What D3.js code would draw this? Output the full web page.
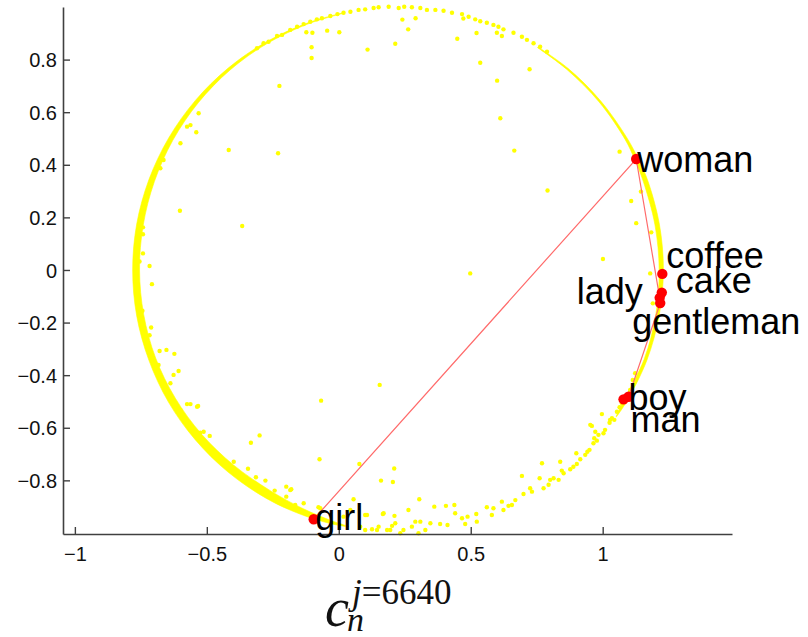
<!DOCTYPE html>
<html>
<head>
<meta charset="utf-8">
<script src="https://cdn.jsdelivr.net/npm/d3@7"></script>
<style>
  body { margin: 0; background: #fff; }
  svg { display: block; }
</style>
</head>
<body>
<svg id="chart" width="808" height="637"></svg>
<script>
// ---- data -------------------------------------------------------------
const words = ["girl", "woman", "lady", "gentleman", "man", "boy", "coffee", "cake"];
const wordX = [-0.095, 1.127, 1.216, 1.218, 1.098, 1.079, 1.226, 1.224];
const wordY = [-0.948, 0.422, -0.106, -0.126, -0.482, -0.492, -0.015, -0.086];

// words joined by the red polyline, in order
const chain = ["girl", "woman", "lady", "gentleman", "man", "boy"];

const xTicks = [-1, -0.5, 0, 0.5, 1];
const xTickLabels = ["\u22121", "\u22120.5", "0", "0.5", "1"];
const yTicks = [-0.8, -0.6, -0.4, -0.2, 0, 0.2, 0.4, 0.6, 0.8];
const yTickLabels = ["\u22120.8", "\u22120.6", "\u22120.4", "\u22120.2", "0", "0.2", "0.4", "0.6", "0.8"];

// dense band of projected vectors along the unit circle (centre, angle in degrees, radii)
const ringCx = 0.225, ringCy = 0.0;
const bandAngle = [-34, -30, -20, -10, 0, 10, 20, 25, 30, 40, 50, 58, 80, 102, 110, 120, 130, 140, 150, 160, 170, 180, 190, 200, 210, 220, 230, 240, 248, 255, 259];
const bandOuter = [0.998, 1.0, 1.003, 1.004, 1.005, 1.005, 1.005, 1.003, 1.002, 1.001, 1.001, 1.0, 1.0, 1.0, 1.0, 1.001, 1.002, 1.003, 1.004, 1.005, 1.006, 1.006, 1.006, 1.005, 1.005, 1.004, 1.003, 1.002, 1.0, 0.998, 0.995];
const bandInner = [0.996, 0.988, 0.992, 0.991, 0.989, 0.988, 0.988, 0.99, 0.993, 0.994, 0.995, 0.997, 1.0, 0.998, 0.996, 0.994, 0.992, 0.989, 0.986, 0.983, 0.981, 0.98, 0.979, 0.978, 0.975, 0.972, 0.969, 0.969, 0.976, 0.986, 0.993];

// individual projected vectors
const dotX = [
  -0.310, -0.285, -0.266, -0.234, -0.215, -0.184, -0.158, -0.133, -0.108, -0.083, -0.064, -0.032, -0.005, 0.018, 0.044, 0.075, 0.100, 0.132, 0.151, 0.189, 0.227, 0.248, 0.277, 0.309, 0.334, 0.366, 0.397, 0.429, 0.467, 0.492, 0.517, 0.536, 0.561, 0.586, 0.605, 0.624, 0.662, 0.694, 0.713, 0.738, 0.763, 0.789,
  -0.225, -0.103, -0.103, -0.123, -0.100, -0.044, 0.002, 0.109, 0.214, 0.241, 0.263, 0.291, 0.449, 0.522, 0.536, 0.599, 0.618, 0.600, 0.723, 0.612, 0.472,
  0.665, 0.791, 0.498, 1.001, 1.064, 1.108, 1.127, 1.145, 1.184, 1.180, 1.190,
  -0.602, -0.366, -0.230, -0.417, -0.742, -0.742, -0.742, -0.755, -0.717, -0.708, -0.744, -0.711, -0.717, -0.679, -0.653, -0.623, -0.683, -0.607, -0.626, -0.638, -0.676, -0.664, -0.600, -0.540, -0.575, -0.562, -0.531, -0.575, -0.537, -0.600,
  -0.562, -0.533, -0.525, -0.489, -0.512, -0.333, -0.300, -0.067, -0.073, -0.344, -0.314, -0.278, -0.243, -0.199, -0.180, -0.133, -0.077, -0.398, -0.411,
  -0.199, -0.184, -0.211, -0.165, -0.146, -0.127, -0.070, 0.170, 0.214, 0.107, 0.145, 0.195, 0.245, 0.290, 0.328, 0.100,
  0.155, 0.078, 0.210, 0.160, 0.205, 0.056, 0.044, 0.100, 0.167, 0.211, 0.264, 0.305, 0.362, 0.406, 0.438, 0.441, 0.467, 0.488, 0.521, 0.523, 0.479, 0.561, 0.586, 0.580, 0.618, 0.624, 0.643, 0.656, 0.669, 0.694, 0.700, 0.725, 0.732, 0.761, 0.770, 0.776, 0.795, 0.801, 0.814, 0.833, 0.839, 0.845, 0.852, 0.877, 0.889, 0.902, 0.900, 0.915, 0.934, 0.942, 0.950, 0.965, 0.968, 0.978, 0.959, 0.984, 1.003, 1.009, 0.997, 1.026, 1.035, 1.044, 1.054, 1.064, 1.073, 1.085, 1.094, 1.104, 1.114, 1.123,
  0.018, 0.151, 0.183, 0.233, 0.302, 0.347, 0.384, 0.412, 0.309, 0.277, 0.202, 0.126, 0.081, 0.953, 0.972, 1.028
];
const dotY = [
  0.843, 0.862, 0.868, 0.890, 0.894, 0.913, 0.925, 0.935, 0.944, 0.953, 0.957, 0.966, 0.973, 0.978, 0.982, 0.989, 0.991, 0.996, 0.999, 1.001, 0.996, 1.001, 0.999, 0.996, 0.989, 0.989, 0.986, 0.978, 0.973, 0.963, 0.953, 0.946, 0.940, 0.932, 0.925, 0.915, 0.902, 0.887, 0.875, 0.862, 0.849, 0.830,
  0.700, 0.847, 0.806, 0.904, 0.902, 0.910, 0.904, 0.838, 0.860, 0.952, 0.915, 0.957, 0.879, 0.901, 0.788, 0.902, 0.890, 0.720, 0.763, 0.577, 0.956,
  0.454, 0.302, -0.013, 0.042, 0.450, 0.262, 0.178, 0.298, 0.143, -0.013, -0.127,
  0.225, 0.167, 0.444, 0.456, 0.162, 0.136, 0.063, 0.032, 0.015, -0.054, -0.155, -0.219, -0.248, -0.308, -0.304, -0.319, -0.361, -0.384, -0.399, -0.431, 0.387, 0.418, 0.482, 0.524, 0.545, 0.551, 0.596, -0.510, -0.520, -0.532,
  -0.510, -0.517, -0.619, -0.631, -0.615, -0.657, -0.629, -0.497, -0.720, -0.756, -0.788, -0.801, -0.839, -0.824, -0.834, -0.887, -0.902, -0.729, -0.748,
  -0.862, -0.837, -0.885, -0.894, -0.913, -0.925, -0.906, -0.925, -0.963, -0.932, -0.989, -0.989, -0.989, -0.957, -0.989, -0.989,
  -0.437, -0.738, -0.755, -0.801, -0.806, -0.872, -0.913, -0.932, -0.928, -0.935, -0.913, -0.872, -0.900, -0.897, -0.894, -0.925, -0.944, -0.938, -0.928, -0.957, -0.966, -0.902, -0.906, -0.932, -0.881, -0.913, -0.897, -0.894, -0.875, -0.783, -0.852, -0.830, -0.843, -0.792, -0.735, -0.830, -0.817, -0.798, -0.792, -0.798, -0.729, -0.763, -0.773, -0.758, -0.748, -0.738, -0.697, -0.720, -0.703, -0.691, -0.684, -0.659, -0.640, -0.649, -0.593, -0.627, -0.621, -0.608, -0.548, -0.581, -0.564, -0.570, -0.539, -0.522, -0.507, -0.501, -0.482, -0.456, -0.418, -0.393,
  -0.938, -0.976, -0.989, -1.001, -1.001, -0.963, -0.966, -0.970, -0.957, -0.976, -0.973, -0.986, -0.976, -0.589, -0.615, -0.570
];

// label placement (pixel offsets from each word's marker)
const labelDx = [1.5, 1, -17, -28, 2, 5, 4, 14];
const labelDy = [11, 13, 6, 31, 35, 11, -6, 0];
const labelAnchor = ["start", "start", "end", "start", "start", "start", "start", "start"];

// ---- scales -----------------------------------------------------------
const svg = d3.select("#chart");
const x = d3.scaleLinear().domain([-1.045, 1.49]).range([63, 732]);
const y = d3.scaleLinear().domain([-1.004, 1.0]).range([534, 7]);
const rad = a => a * Math.PI / 180;

// ---- yellow band and points ------------------------------------------
const band = bandAngle.map((a, i) => ({ a, ri: bandInner[i], ro: bandOuter[i] }));
const bandArea = d3.area()
  .defined(d => d.ro > d.ri)
  .x0(d => x(ringCx + d.ro * Math.cos(rad(d.a))))
  .y0(d => y(ringCy + d.ro * Math.sin(rad(d.a))))
  .x1(d => x(ringCx + d.ri * Math.cos(rad(d.a))))
  .y1(d => y(ringCy + d.ri * Math.sin(rad(d.a))))
  .curve(d3.curveCatmullRom);

svg.append("path")
  .datum(band)
  .attr("d", bandArea)
  .attr("fill", "#ffff00")
  .attr("stroke", "#ffff00")
  .attr("stroke-width", 0.6);

const dots = dotX.map((v, i) => ({ x: v, y: dotY[i] }));
svg.append("g")
  .selectAll("circle")
  .data(dots)
  .join("circle")
  .attr("cx", d => x(d.x))
  .attr("cy", d => y(d.y))
  .attr("r", 2.2)
  .attr("fill", "#ffff00");

// ---- axes -------------------------------------------------------------
const axisColor = "#404040";
const yAxis = d3.axisLeft(y)
  .tickValues(yTicks)
  .tickFormat((d, i) => yTickLabels[i])
  .tickSizeInner(-7)
  .tickSizeOuter(0)
  .tickPadding(6);
const xAxis = d3.axisBottom(x)
  .tickValues(xTicks)
  .tickFormat((d, i) => xTickLabels[i])
  .tickSizeInner(-7)
  .tickSizeOuter(0)
  .tickPadding(13);

const gy = svg.append("g").attr("transform", "translate(63,0)").call(yAxis);
const gx = svg.append("g").attr("transform", "translate(0,534)").call(xAxis);
[gx, gy].forEach(g => {
  g.select(".domain").attr("stroke", axisColor).attr("stroke-width", 1.6);
  g.selectAll(".tick line").attr("stroke", axisColor).attr("stroke-width", 1.4);
  g.selectAll(".tick text")
    .attr("fill", "#111")
    .attr("font-family", "'Liberation Sans', Arial, sans-serif")
    .attr("font-size", 20);
});
gy.selectAll(".tick text").attr("dy", "0.36em");
gx.selectAll(".tick text").attr("dy", "0.71em");

// ---- word chain -------------------------------------------------------
const idx = w => words.indexOf(w);
const chainPts = chain.map(w => [wordX[idx(w)], wordY[idx(w)]]);
svg.append("path")
  .datum(chainPts)
  .attr("d", d3.line().x(d => x(d[0])).y(d => y(d[1])))
  .attr("fill", "none")
  .attr("stroke", "#ff6b6b")
  .attr("stroke-width", 1.2);

const wordData = words.map((w, i) => ({ w, x: wordX[i], y: wordY[i], dx: labelDx[i], dy: labelDy[i], anchor: labelAnchor[i] }));
svg.append("g")
  .selectAll("circle")
  .data(wordData)
  .join("circle")
  .attr("cx", d => x(d.x))
  .attr("cy", d => y(d.y))
  .attr("r", 5.2)
  .attr("fill", "#ff0000");

svg.append("g")
  .selectAll("text")
  .data(wordData)
  .join("text")
  .attr("x", d => x(d.x) + d.dx)
  .attr("y", d => y(d.y) + d.dy)
  .attr("text-anchor", d => d.anchor)
  .attr("font-family", "'Liberation Sans', Arial, sans-serif")
  .attr("font-size", 36)
  .attr("fill", "#000")
  .text(d => d.w);

// ---- axis caption: c_n^{j=6640} ---------------------------------------
const cap = svg.append("g").attr("font-family", "'Liberation Serif', 'Times New Roman', serif").attr("fill", "#111");
cap.append("text").attr("x", 325).attr("y", 626).attr("font-size", 54).attr("font-style", "italic").text("c");
cap.append("text").attr("x", 347).attr("y", 631).attr("font-size", 34).attr("font-style", "italic").text("n");
const sup = cap.append("text").attr("x", 352).attr("y", 604).attr("font-size", 35);
sup.append("tspan").attr("font-style", "italic").text("j");
sup.append("tspan").text("=6640");
</script>
</body>
</html>
